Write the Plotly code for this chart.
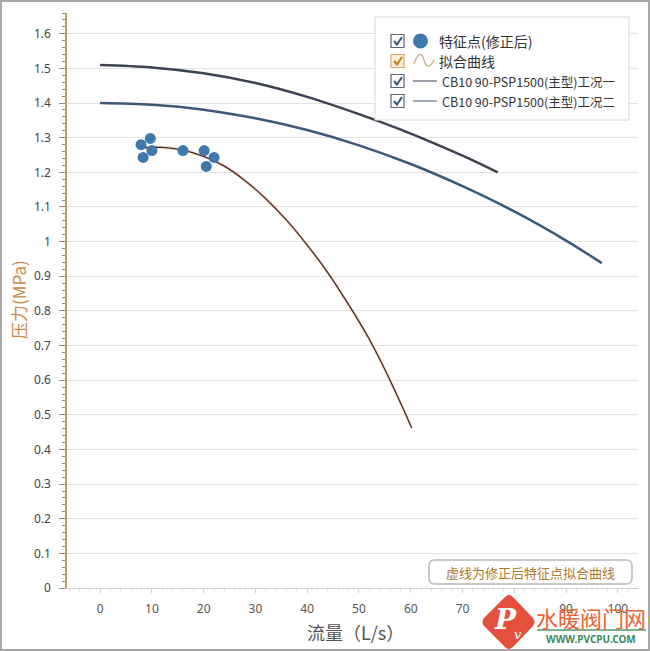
import plotly.graph_objects as go

# ---------------- data ----------------
pump1_flow = [0, 10, 20, 30, 40, 50, 60, 70, 76.8]
pump1_pressure = [1.510, 1.503, 1.486, 1.458, 1.418, 1.368, 1.312, 1.248, 1.200]

pump2_flow = [0, 10, 20, 30, 40, 50, 60, 70, 80, 90, 96.9]
pump2_pressure = [1.400, 1.395, 1.381, 1.356, 1.322, 1.278, 1.224, 1.160, 1.087, 1.003, 0.938]

point_flow = [7.9, 9.7, 8.3, 10.0, 16.0, 20.1, 20.5, 22.0]
point_pressure = [1.280, 1.298, 1.243, 1.263, 1.263, 1.263, 1.217, 1.243]

fit_flow = [8, 12, 16, 20, 24, 28, 32, 36, 40, 44, 48, 52, 56, 60.2]
fit_pressure = [1.271, 1.272, 1.264, 1.246, 1.218, 1.176, 1.124, 1.062, 0.990, 0.910, 0.818, 0.718, 0.600, 0.462]

legend_labels = ["特征点(修正后)", "拟合曲线", "CB10 90-PSP1500(主型)工况一", "CB10 90-PSP1500(主型)工况二"]
x_title = "流量（L/s）"
y_title = "压力(MPa)"
note_text = "虚线为修正后特征点拟合曲线"

# ---------------- geometry helpers (pixel -> paper) ----------------
L, R, T, B = 67, 12, 13, 63
FW, FH = 650, 651
W = FW - L - R
H = FH - T - B


def px(x):
    return (x - L) / W


def py(y):
    return (FH - B - y) / H


def path(cmds):
    out = []
    for c in cmds:
        if isinstance(c, str):
            out.append(c)
        else:
            out.append(f"{px(c[0]):.5f},{py(c[1]):.5f}")
    return " ".join(out)


CJK = "Noto Sans CJK SC"
LAT = "Noto Sans"

fig = go.Figure()

fig.add_trace(go.Scatter(x=pump1_flow, y=pump1_pressure, mode="lines",
                         line=dict(color="#3b4252", width=2.5, shape="spline"),
                         name=legend_labels[2]))
fig.add_trace(go.Scatter(x=pump2_flow, y=pump2_pressure, mode="lines",
                         line=dict(color="#3d5878", width=2.5, shape="spline"),
                         name=legend_labels[3]))
fig.add_trace(go.Scatter(x=fit_flow, y=fit_pressure, mode="lines",
                         line=dict(color="#e8c9a0", width=3.2, shape="spline"),
                         opacity=0.5, hoverinfo="skip", showlegend=False))
fig.add_trace(go.Scatter(x=fit_flow, y=fit_pressure, mode="lines",
                         line=dict(color="#4a2626", width=1.3, shape="spline"),
                         name=legend_labels[1]))
fig.add_trace(go.Scatter(x=point_flow, y=point_pressure, mode="markers",
                         marker=dict(color="#3f78ad", size=11),
                         name=legend_labels[0]))

shapes = []
annotations = []

# outer frame
shapes.append(dict(type="rect", xref="paper", yref="paper",
                   x0=px(1), x1=px(649), y0=py(650), y1=py(1),
                   line=dict(color="#a8a8a8", width=2), layer="below"))

# legend box
shapes.append(dict(type="rect", xref="paper", yref="paper",
                   x0=px(375), x1=px(629), y0=py(120), y1=py(17),
                   line=dict(color="#d8d8d8", width=1), fillcolor="white"))

rows_y = [41, 61, 81, 101]
for i, yy in enumerate(rows_y):
    if i == 1:
        bc, fc, cc = "#d9a860", "#fdf1de", "#c07a20"
    else:
        bc, fc, cc = "#5d6472", "white", "#3b5878"
    shapes.append(dict(type="rect", xref="paper", yref="paper",
                       x0=px(391), x1=px(404), y0=py(yy + 6.5), y1=py(yy - 6.5),
                       line=dict(color=bc, width=1.2), fillcolor=fc))
    shapes.append(dict(type="path", xref="paper", yref="paper",
                       path=path(["M", (394, yy), "L", (397, yy + 3.5), "L", (402, yy - 4)]),
                       line=dict(color=cc, width=2)))

# legend icons
shapes.append(dict(type="circle", xref="paper", yref="paper",
                   x0=px(413), x1=px(428), y0=py(48.5), y1=py(33.5),
                   fillcolor="#3f78ad", line=dict(color="#3f78ad", width=0)))
shapes.append(dict(type="path", xref="paper", yref="paper",
                   path=path(["M", (414, 64), "C", (418, 52), (422, 52), (424, 60),
                              "S", (430, 68), (434, 60)]),
                   line=dict(color="#c8b89c", width=1.5)))
shapes.append(dict(type="line", xref="paper", yref="paper",
                   x0=px(413), x1=px(437), y0=py(81), y1=py(81),
                   line=dict(color="#3b4252", width=1)))
shapes.append(dict(type="line", xref="paper", yref="paper",
                   x0=px(413), x1=px(437), y0=py(101), y1=py(101),
                   line=dict(color="#3d5878", width=1)))

legend_sizes = [14, 14, 12.5, 12.5]
legend_x = [437, 437, 440, 440]
for lab, yy, fs, lx in zip(legend_labels, rows_y, legend_sizes, legend_x):
    annotations.append(dict(xref="paper", yref="paper", x=px(lx), y=py(yy),
                            xanchor="left", yanchor="middle", showarrow=False,
                            text=lab, font=dict(family=CJK, size=fs, color="#333333")))

# note box (rounded)
x0n, x1n, y0n, y1n, rr = 429, 632, 560, 584, 6
shapes.append(dict(type="path", xref="paper", yref="paper",
                   path=path(["M", (x0n + rr, y0n), "L", (x1n - rr, y0n), "Q", (x1n, y0n), (x1n, y0n + rr),
                              "L", (x1n, y1n - rr), "Q", (x1n, y1n), (x1n - rr, y1n),
                              "L", (x0n + rr, y1n), "Q", (x0n, y1n), (x0n, y1n - rr),
                              "L", (x0n, y0n + rr), "Q", (x0n, y0n), (x0n + rr, y0n), "Z"]),
                   line=dict(color="#b8b8b8", width=1.5), fillcolor="white"))
annotations.append(dict(xref="paper", yref="paper", x=px(530.5), y=py(572),
                        xanchor="center", yanchor="middle", showarrow=False,
                        text=note_text, font=dict(family=CJK, size=13, color="#b07a2c")))

# axis titles
annotations.append(dict(xref="paper", yref="paper", x=px(18), y=py(300),
                        xanchor="center", yanchor="middle", showarrow=False, textangle=-90,
                        text=y_title, font=dict(family=CJK, size=17, color="#c98a4b")))
annotations.append(dict(xref="paper", yref="paper", x=px(355), y=py(632),
                        xanchor="center", yanchor="middle", showarrow=False,
                        text=x_title, font=dict(family=CJK, size=18, color="#555555")))

# watermark
shapes.append(dict(type="path", xref="paper", yref="paper",
                   path=path(["M", (505, 597), "Q", (509, 593), (513, 597),
                              "L", (533, 618), "Q", (536, 622), (533, 626),
                              "L", (513, 647), "Q", (509, 651), (505, 647),
                              "L", (484, 626), "Q", (481, 622), (484, 618), "Z"]),
                   line=dict(color="#e3503c", width=0), fillcolor="#e3503c"))
annotations.append(dict(xref="paper", yref="paper", x=px(505), y=py(619),
                        xanchor="center", yanchor="middle", showarrow=False,
                        text="<b><i>P</i></b>", font=dict(family="DejaVu Serif", size=28, color="white")))
annotations.append(dict(xref="paper", yref="paper", x=px(518), y=py(634),
                        xanchor="center", yanchor="middle", showarrow=False,
                        text="<i>v</i>", font=dict(family="DejaVu Serif", size=13, color="white")))
annotations.append(dict(xref="paper", yref="paper", x=px(591), y=py(617),
                        xanchor="center", yanchor="middle", showarrow=False,
                        text="水暖阀门网", font=dict(family=CJK, size=22, color="#ea6436")))
shapes.append(dict(type="line", xref="paper", yref="paper",
                   x0=px(537), x1=px(646), y0=py(630), y1=py(630),
                   line=dict(color="#4a9a66", width=1.5)))
annotations.append(dict(xref="paper", yref="paper", x=px(591), y=py(639),
                        xanchor="center", yanchor="middle", showarrow=False,
                        text="<b>WWW.PVCPU.COM</b>", font=dict(family=LAT, size=10, color="#3d8a5a")))

fig.update_layout(
    width=FW, height=FH,
    margin=dict(l=L, r=R, t=T, b=B),
    plot_bgcolor="white", paper_bgcolor="white",
    showlegend=False,
    shapes=shapes, annotations=annotations,
    xaxis=dict(range=[-6.4, 103.9], tick0=0, dtick=10, showgrid=False, zeroline=False,
               showline=True, linecolor="#d0d0d0", linewidth=1,
               ticks="outside", ticklen=4, tickcolor="#d0d0d0",
               minor=dict(dtick=2, ticks="outside", ticklen=2, tickcolor="#dddddd"),
               tickfont=dict(family=LAT, size=12, color="#555555"),
               ticklabelstandoff=6),
    yaxis=dict(range=[0, 1.66], tick0=0, dtick=0.1, showgrid=True, gridcolor="#e2e2e2", gridwidth=1,
               zeroline=False, showline=True, linecolor="#c4a057", linewidth=1.5,
               ticks="outside", ticklen=6, tickcolor="#8a8a8a",
               minor=dict(dtick=0.02, ticks="outside", ticklen=3, tickcolor="#8a8a8a", showgrid=False),
               tickfont=dict(family=LAT, size=12, color="#444444"),
               ticklabelstandoff=6),
)

fig.write_html("out.html",
               config={"displayModeBar": False},
               post_script="document.body.style.margin='0';document.body.style.overflow='hidden';")
